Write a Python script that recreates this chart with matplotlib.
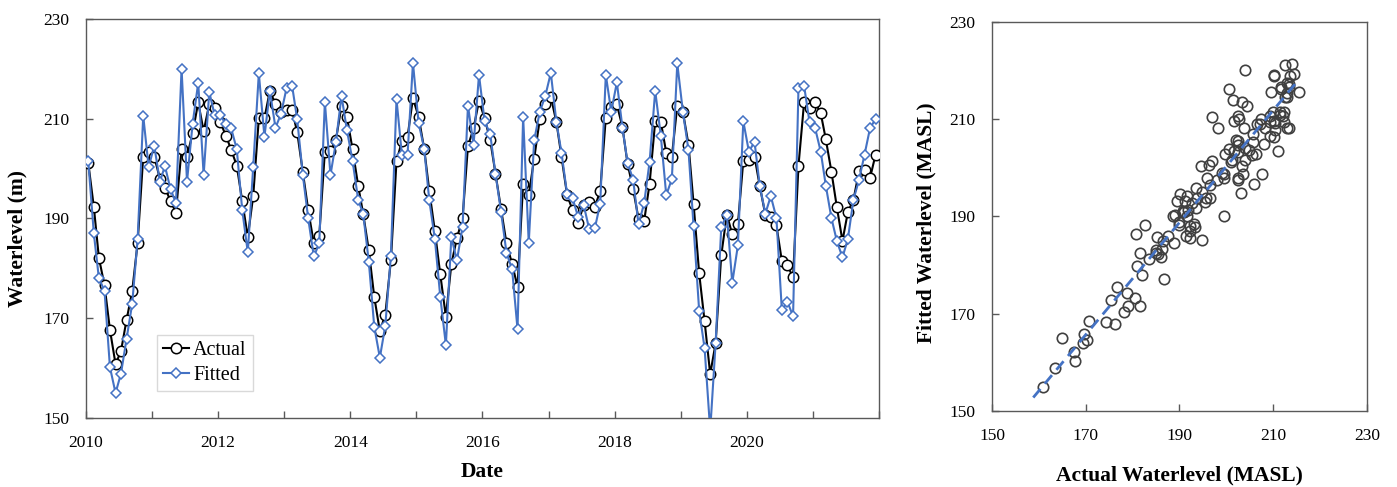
import numpy as np
import pandas as pd
import matplotlib
matplotlib.use('Agg')
import matplotlib.pyplot as plt
import matplotlib.dates as mdates

# Excel-like look: Times style font
plt.rcParams['font.family'] = 'serif'
plt.rcParams['font.serif'] = ['Liberation Serif', 'DejaVu Serif']

# monthly water level, Jan 2010 - Dec 2021
actual = [201.2, 192.3, 182.1, 176.6, 167.7, 160.8, 163.4, 169.7, 175.4, 185.1, 202.4, 203.4,
          202.4, 198.0, 196.2, 193.5, 191.2, 204.0, 202.4, 207.1, 213.3, 207.5, 212.9, 212.1,
          209.3, 206.6, 203.8, 200.6, 193.5, 186.3, 194.5, 210.1, 210.1, 215.6, 212.9, 211.4,
          211.7, 211.7, 207.3, 199.4, 191.7, 185.0, 186.5, 203.4, 203.5, 205.7, 212.6, 210.4,
          203.9, 196.6, 190.9, 183.6, 174.3, 167.4, 170.7, 181.6, 201.5, 205.5, 206.4, 214.1,
          210.4, 204.0, 195.6, 187.5, 178.8, 170.3, 180.8, 186.1, 190.0, 204.5, 208.1, 213.6,
          210.1, 205.7, 199.0, 191.9, 185.0, 180.9, 176.3, 197.0, 194.7, 202.0, 209.9, 212.9,
          214.4, 209.3, 202.4, 194.7, 191.7, 189.0, 192.7, 193.3, 192.3, 195.5, 210.2, 212.4,
          212.9, 208.3, 201.0, 195.9, 189.9, 189.5, 197.0, 209.5, 209.4, 203.2, 202.4, 212.6,
          211.4, 204.8, 193.0, 179.0, 169.4, 158.8, 165.0, 182.6, 190.8, 186.8, 188.8, 201.6,
          201.7, 202.4, 196.5, 190.7, 190.2, 188.6, 181.5, 180.6, 178.2, 200.6, 213.3, 212.2,
          213.3, 211.1, 205.9, 199.4, 192.3, 185.5, 191.3, 193.8, 199.5, 199.7, 198.2, 202.8]

fitted = [201.6, 187.0, 178.0, 175.5, 160.2, 155.0, 158.9, 165.9, 172.9, 185.8, 210.6, 200.3,
          204.6, 197.4, 200.5, 195.9, 193.1, 220.0, 197.4, 209.0, 217.2, 198.7, 215.4, 210.7,
          210.7, 208.9, 208.1, 203.9, 191.8, 183.2, 200.4, 219.1, 206.4, 215.6, 208.2, 210.9,
          216.1, 216.6, 209.9, 198.8, 190.0, 182.4, 185.0, 213.4, 198.7, 205.3, 214.6, 207.7,
          201.6, 193.8, 190.9, 181.3, 168.3, 162.1, 168.5, 182.5, 213.9, 202.7, 202.8, 221.2,
          209.2, 204.0, 193.7, 185.9, 174.3, 164.6, 186.3, 181.6, 188.3, 212.6, 204.8, 218.8,
          209.5, 206.9, 199.0, 191.3, 183.1, 179.8, 167.8, 210.4, 185.1, 205.7, 211.4, 214.5,
          219.2, 209.3, 203.2, 194.9, 194.1, 190.3, 192.8, 187.9, 188.0, 193.0, 218.8, 211.4,
          217.3, 208.2, 201.2, 197.8, 188.8, 193.1, 201.4, 215.6, 206.6, 194.7, 197.9, 221.1,
          211.4, 203.7, 188.5, 171.5, 164.0, 147.5, 165.0, 188.2, 190.8, 177.1, 184.6, 209.5,
          203.4, 205.4, 196.5, 191.0, 194.5, 190.1, 171.6, 173.3, 170.4, 216.2, 216.6, 209.3,
          208.1, 203.4, 196.6, 190.1, 185.5, 182.2, 185.9, 193.8, 197.8, 202.8, 208.2, 209.9]

dates = pd.date_range('2010-01-01', periods=len(actual), freq='MS') + pd.Timedelta(days=12)
label_years = [pd.Timestamp(f'{y}-01-01') for y in range(2010, 2021, 2)]

blue = '#4472C4'
spine_col = '#595959'

fig = plt.figure(figsize=(13.97, 4.87), dpi=100)
ax1 = fig.add_axes([0.0616, 0.1417, 0.5676, 0.8193])
ax2 = fig.add_axes([0.7101, 0.1561, 0.2684, 0.7994])

# time series
ax1.plot(dates, actual, color='black', lw=1.5, marker='o', ms=7.5, mfc='white',
         mec='black', mew=1.1, label='Actual', zorder=3)
ax1.plot(dates, fitted, color=blue, lw=1.5, marker='D', ms=5.4, mfc='white',
         mec=blue, mew=1.1, label='Fitted', zorder=4)

ax1.set_xlim(pd.Timestamp('2010-01-01'), pd.Timestamp('2022-01-01'))
ax1.set_ylim(150, 230)
ax1.set_yticks(np.arange(150, 231, 20))
ax1.set_xticks(label_years)
ax1.xaxis.set_major_formatter(mdates.DateFormatter('%Y'))
ax1.xaxis.set_minor_locator(mdates.YearLocator(1))
ax1.set_xlabel('Date', fontsize=15.5, fontweight='bold')
ax1.set_ylabel('Waterlevel (m)', fontsize=15.5, fontweight='bold')
ax1.xaxis.set_label_coords(0.5, -0.11)
ax1.yaxis.set_label_coords(-0.0744, 0.45)

leg = ax1.legend(loc='lower left', bbox_to_anchor=(0.0895, 0.0677), borderaxespad=0,
                 fontsize=14.5, frameon=True, fancybox=False, framealpha=1,
                 edgecolor='#d9d9d9', borderpad=0.3, handlelength=1.3,
                 handletextpad=0.2, labelspacing=0.3)
leg.get_frame().set_linewidth(1.0)

# scatter of fitted vs actual with linear trend
ax2.plot(actual, fitted, 'o', ms=7.5, mfc='none', mec='#404040', mew=1.2, zorder=3)
slope, intercept = np.polyfit(actual, fitted, 1)
xs = np.array([min(actual), max(actual)])
ax2.plot(xs, slope * xs + intercept, color=blue, lw=2, ls=(0, (4, 2.5)), zorder=4)

ax2.set_xlim(150, 230)
ax2.set_ylim(150, 230)
ax2.set_xticks(np.arange(150, 231, 20))
ax2.set_yticks(np.arange(150, 231, 20))
ax2.set_xlabel('Actual Waterlevel (MASL)', fontsize=15.5, fontweight='bold')
ax2.set_ylabel('Fitted Waterlevel (MASL)', fontsize=15.5, fontweight='bold')
ax2.xaxis.set_label_coords(0.5, -0.141)
ax2.yaxis.set_label_coords(-0.149, 0.484)

for ax in (ax1, ax2):
    for sp in ax.spines.values():
        sp.set_color(spine_col)
        sp.set_linewidth(1.0)
    ax.tick_params(axis='both', which='both', direction='in', length=5, width=1,
                   color=spine_col, labelsize=12.5)
    ax.tick_params(axis='x', which='both', pad=12)
    ax.tick_params(axis='y', which='both', pad=12)

fig.savefig('out.png', dpi=100)
